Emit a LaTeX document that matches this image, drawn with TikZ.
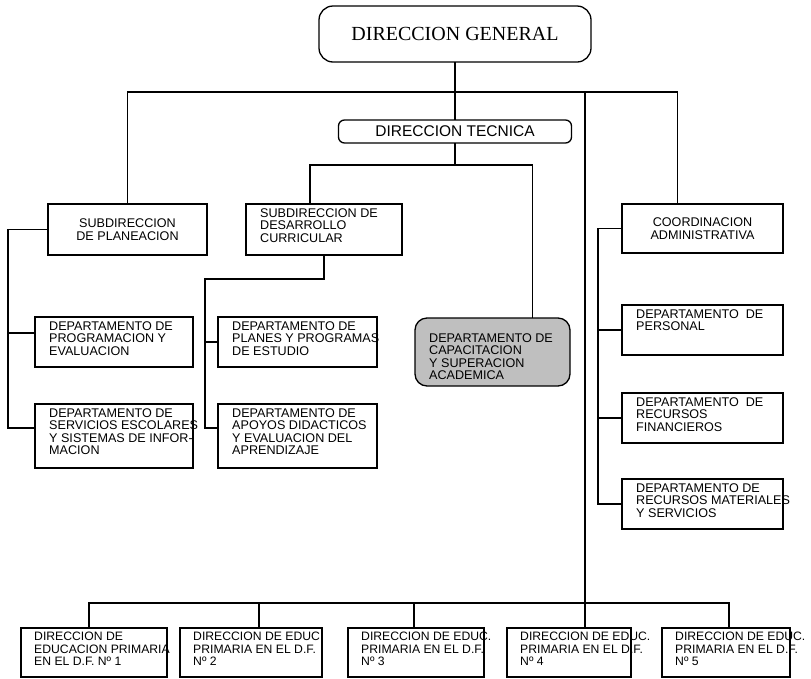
\documentclass[tikz,border=0pt]{standalone}
\usepackage{fontspec}
\setmainfont{Liberation Serif}
\setsansfont{Liberation Sans}
\usepackage{tikz}
\usetikzlibrary{positioning, calc}
\newcommand{\boxfont}{\sffamily\fontsize{12.6}{12.6}\selectfont}
\tikzset{
  unit/.style={rectangle, draw, line width=1.3pt, inner sep=0pt, outer sep=0pt},
  dirgral/.style={unit, rounded corners=14pt, font=\rmfamily\fontsize{20}{24}\selectfont},
  dirtec/.style={unit, rounded corners=6pt, font=\sffamily\fontsize{15.5}{18}\selectfont},
  midtxt/.style={unit, align=center, font=\boxfont},
  intxt/.style={anchor=north west, inner sep=0pt, align=left, font=\boxfont,
                xshift=14pt, yshift=-4pt},
  lowtxt/.style={anchor=north west, inner sep=0pt, align=left,
                 font=\sffamily\fontsize{12.2}{12.6}\selectfont, xshift=13pt, yshift=-4pt},
  shaded/.style={unit, rounded corners=12pt, fill=black!25},
  link/.style={line width=1.2pt}
}

\begin{document}
\begin{tikzpicture}[x=1pt, y=-1pt]
    \useasboundingbox (0,0) rectangle (811,678);

    \node[dirgral, minimum width=272pt, minimum height=56pt] (dg) at (455,34) {DIRECCION GENERAL};
    \node[dirtec, minimum width=233pt, minimum height=23pt] (dt) at (455,131.5) {DIRECCION TECNICA};

    \node[midtxt, minimum width=159pt, minimum height=51pt] (sp) at (127.5,229.5) {SUBDIRECCION\\DE PLANEACION};
    \node[unit, minimum width=156pt, minimum height=51pt,
          label={[intxt]north west:{SUBDIRECCION DE\\DESARROLLO\\CURRICULAR}}] (sd) at (324,229.5) {};
    \node[midtxt, minimum width=161pt, minimum height=49pt] (ca) at (702.5,228.5) {COORDINACION\\ADMINISTRATIVA};

    \node[unit, minimum width=158pt, minimum height=50pt,
          label={[intxt]north west:{DEPARTAMENTO DE\\PROGRAMACION Y\\EVALUACION}}] (pe) at (114,342) {};
    \node[unit, minimum width=158pt, minimum height=64pt,
          label={[intxt]north west:{DEPARTAMENTO DE\\SERVICIOS ESCOLARES\\Y SISTEMAS DE INFOR-\\MACION}}] (se) at (114,436) {};
    \node[unit, minimum width=159pt, minimum height=50pt,
          label={[intxt]north west:{DEPARTAMENTO DE\\PLANES Y PROGRAMAS\\DE ESTUDIO}}] (pp) at (297.5,342) {};
    \node[unit, minimum width=159pt, minimum height=64pt,
          label={[intxt]north west:{DEPARTAMENTO DE\\APOYOS DIDACTICOS\\Y EVALUACION DEL\\APRENDIZAJE}}] (ad) at (297.5,436) {};
    \node[shaded, minimum width=155pt, minimum height=68pt,
          label={[intxt, yshift=-11pt]north west:{DEPARTAMENTO DE\\CAPACITACION\\Y SUPERACION\\ACADEMICA}}] (cs) at (492.5,352) {};

    \node[unit, minimum width=161pt, minimum height=50pt,
          label={[intxt]north west:{DEPARTAMENTO~~DE\\PERSONAL}}] (dpers) at (702.5,330) {};
    \node[unit, minimum width=161pt, minimum height=50pt,
          label={[intxt]north west:{DEPARTAMENTO~~DE\\RECURSOS\\FINANCIEROS}}] (dfin) at (702.5,418) {};
    \node[unit, minimum width=161pt, minimum height=50pt,
          label={[intxt]north west:{DEPARTAMENTO DE\\RECURSOS MATERIALES\\Y SERVICIOS}}] (dmat) at (702.5,504) {};

    \node[unit, minimum width=146pt, minimum height=49pt,
          label={[lowtxt]north west:{DIRECCION DE\\EDUCACION PRIMARIA\\EN EL D.F. Nº 1}}] (dp1) at (94,652.5) {};
    \node[unit, minimum width=142pt, minimum height=49pt,
          label={[lowtxt]north west:{DIRECCION DE EDUC\\PRIMARIA EN EL D.F.\\Nº 2}}] (dp2) at (251,652.5) {};
    \node[unit, minimum width=136pt, minimum height=49pt,
          label={[lowtxt]north west:{DIRECCION DE EDUC.\\PRIMARIA EN EL D.F.\\Nº 3}}] (dp3) at (416,652.5) {};
    \node[unit, minimum width=124pt, minimum height=49pt,
          label={[lowtxt]north west:{DIRECCION DE EDUC.\\PRIMARIA EN EL D.F.\\Nº 4}}] (dp4) at (569,652.5) {};
    \node[unit, minimum width=128pt, minimum height=49pt,
          label={[lowtxt]north west:{DIRECCION DE EDUC.\\PRIMARIA EN EL D.F.\\Nº 5}}] (dp5) at (726,652.5) {};

    \draw[link] (dg) -- (dt);
    \draw[link] (sp.north) -- ++(0,-112) -| ([xshift=-25pt]ca.north);
    \draw[link] ([xshift=16pt]dp4.north) -- ++(0,-536);

    \draw[link] (dt.south) -- ++(0,22) -| ([xshift=-14pt]sd.north);
    \draw[link] (dt.south) ++(0,22) -| ([xshift=40pt]cs.north);

    \draw[link] (sp.west) -- ++(-40,0) |- ([yshift=8pt]se.west);
    \draw[link] ([yshift=9pt]pe.west) -- ++(-27,0);

    \draw[link] (sd.south) -- ++(0,24) -| ([xshift=-13pt,yshift=8pt]ad.west) -- ([yshift=8pt]ad.west);
    \draw[link] (pp.west) -- ++(-13,0);

    \draw[link] (ca.west) -- ++(-24,0) |- (dmat.west);
    \draw[link] (dpers.west) -- ++(-24,0);
    \draw[link] (dfin.west) -- ++(-24,0);

    \draw[link] ([xshift=-5pt]dp1.north) -- ++(0,-25) -| ([xshift=3pt]dp5.north);
    \draw[link] ([xshift=8pt]dp2.north) -- ++(0,-25);
    \draw[link] ([xshift=-2pt]dp3.north) -- ++(0,-25);
\end{tikzpicture}
\end{document}
